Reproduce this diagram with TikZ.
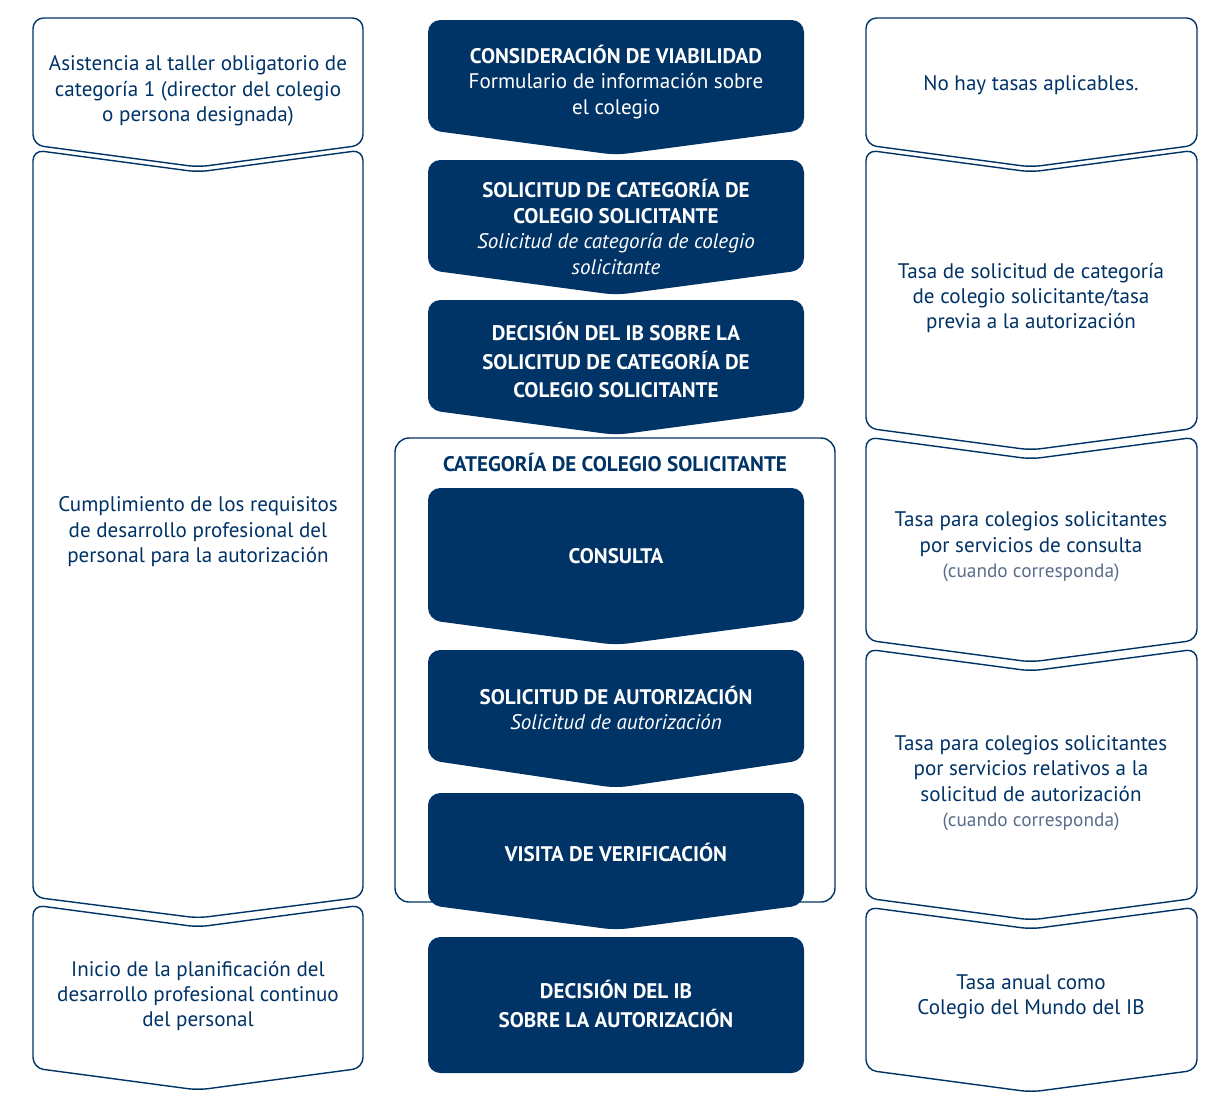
\documentclass[tikz,border=0pt]{standalone}
\usepackage{fontspec}
\setmainfont{PT Sans}
\definecolor{ibnavy}{RGB}{0,51,102}
\definecolor{ibgray}{RGB}{90,110,140}
\begin{document}
\begin{tikzpicture}[x=0.02cm,y=-0.02cm,
	stage/.style={fill=ibnavy,rounded corners=7pt},
	side/.style={draw=ibnavy,line width=0.8pt,fill=white,rounded corners=6pt},
	stagetext/.style={text=white,align=center,font=\fontsize{12}{14.5}\selectfont},
	sidetext/.style={text=ibnavy,align=center,font=\fontsize{12}{14.5}\selectfont},
	note/.style={text=ibgray,font=\fontsize{11}{13}\selectfont}]
	\useasboundingbox (0,0) rectangle (1230,1110);

	% columna izquierda
	\draw[side] (33,80) -- (33,18) -- (363,18) -- (363,145) -- (198,167) -- (33,145) -- cycle;
	\draw[side] (33,500) -- (33,150) -- (198,172) -- (363,150) -- (363,897) -- (198,918) -- (33,897) -- cycle;
	\draw[side] (33,990) -- (33,905) -- (198,927) -- (363,905) -- (363,1068) -- (198,1090) -- (33,1068) -- cycle;

	% columna derecha
	\draw[side] (866,80) -- (866,18) -- (1197,18) -- (1197,145) -- (1031,167) -- (866,145) -- cycle;
	\draw[side] (866,300) -- (866,150) -- (1031,172) -- (1197,150) -- (1197,428) -- (1031,450) -- (866,428) -- cycle;
	\draw[side] (866,540) -- (866,437) -- (1031,459) -- (1197,437) -- (1197,640) -- (1031,662) -- (866,640) -- cycle;
	\draw[side] (866,780) -- (866,649) -- (1031,671) -- (1197,649) -- (1197,898) -- (1031,920) -- (866,898) -- cycle;
	\draw[side] (866,990) -- (866,907) -- (1031,929) -- (1197,907) -- (1197,1070) -- (1031,1092) -- (866,1070) -- cycle;

	% contenedor
	\draw[ibnavy,line width=0.8pt,rounded corners=8pt] (395,438) rectangle (835,902);

	% columna central
	\fill[stage] (428,75) -- (428,20) -- (804,20) -- (804,130) -- (616,155) -- (428,130) -- cycle;
	\fill[stage] (428,215) -- (428,160) -- (804,160) -- (804,270) -- (616,295) -- (428,270) -- cycle;
	\fill[stage] (428,355) -- (428,300) -- (804,300) -- (804,410) -- (616,435) -- (428,410) -- cycle;
	\fill[stage] (428,550) -- (428,488) -- (804,488) -- (804,620) -- (616,645) -- (428,620) -- cycle;
	\fill[stage] (428,700) -- (428,650) -- (804,650) -- (804,760) -- (616,788) -- (428,760) -- cycle;
	\fill[stage] (428,850) -- (428,793) -- (804,793) -- (804,905) -- (616,930) -- (428,905) -- cycle;
	\fill[stage] (428,937) rectangle (804,1073);

	% textos centrales
	\node[stagetext] (viab) at (616,82) {\textbf{CONSIDERACIÓN DE VIABILIDAD}\\Formulario de información sobre\\el colegio};
	\node[stagetext] (solcat) at (616,227) {\textbf{SOLICITUD DE CATEGORÍA DE}\\\textbf{COLEGIO SOLICITANTE}\\\textit{Solicitud de categoría de colegio}\\\textit{solicitante}};
	\node[stagetext,font=\bfseries\fontsize{12}{16}\selectfont] (decsol) at (616,360) {DECISIÓN DEL IB SOBRE LA\\SOLICITUD DE CATEGORÍA DE\\COLEGIO SOLICITANTE};
	\node[text=ibnavy,font=\bfseries\fontsize{12}{14.5}\selectfont] (cat) at (615,462) {CATEGORÍA DE COLEGIO SOLICITANTE};
	\node[stagetext,font=\bfseries\fontsize{12}{14.5}\selectfont] (cons) at (616,556) {CONSULTA};
	\node[stagetext] (solaut) at (616,708) {\textbf{SOLICITUD DE AUTORIZACIÓN}\\\textit{Solicitud de autorización}};
	\node[stagetext,font=\bfseries\fontsize{12}{14.5}\selectfont] (visita) at (616,852) {VISITA DE VERIFICACIÓN};
	\node[stagetext,font=\bfseries\fontsize{12}{16}\selectfont] (decaut) at (616,1004) {DECISIÓN DEL IB\\SOBRE LA AUTORIZACIÓN};

	% textos laterales
	\node[sidetext] (taller) at (198,91) {Asistencia al taller obligatorio de\\categoría 1 (director del colegio\\o persona designada)};
	\node[sidetext] (dp) at (198,532) {Cumplimiento de los requisitos\\de desarrollo profesional del\\personal para la autorización};
	\node[sidetext] (plan) at (198,996) {Inicio de la planificación del\\desarrollo profesional continuo\\del personal};
	\node[sidetext] (tasa0) at (1031,85) {No hay tasas aplicables.};
	\node[sidetext] (tasa1) at (1031,298) {Tasa de solicitud de categoría\\de colegio solicitante/tasa\\previa a la autorización};
	\node[sidetext] (tasa2) at (1031,547) {Tasa para colegios solicitantes\\por servicios de consulta\\{\color{ibgray}\fontsize{11}{13}\selectfont(cuando corresponda)}};
	\node[sidetext] (tasa3) at (1031,783) {Tasa para colegios solicitantes\\por servicios relativos a la\\solicitud de autorización\\{\color{ibgray}\fontsize{11}{13}\selectfont(cuando corresponda)}};
	\node[sidetext] (tasa4) at (1031,997) {Tasa anual como\\Colegio del Mundo del IB};
\end{tikzpicture}
\end{document}
